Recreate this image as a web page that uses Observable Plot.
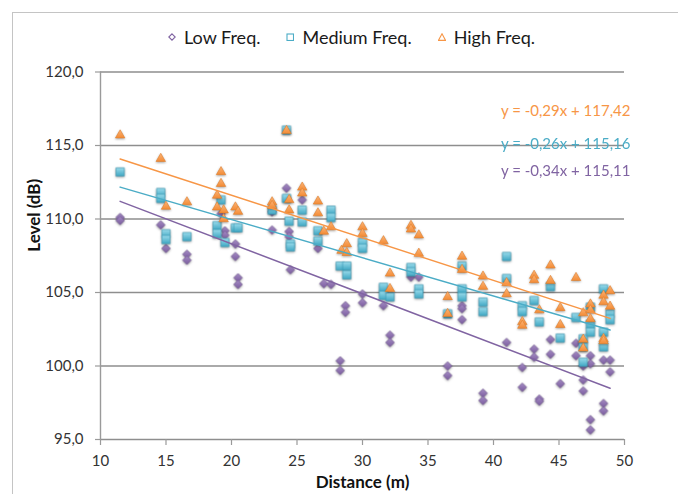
<!DOCTYPE html>
<html>
<head>
<meta charset="utf-8">
<script src="https://cdn.jsdelivr.net/npm/d3@7"></script>
<script src="https://cdn.jsdelivr.net/npm/@observablehq/plot@0.6"></script>
<style>
  html, body { margin: 0; padding: 0; background: #ffffff; }
  #wrap { position: relative; width: 678px; height: 494px; overflow: hidden; font-family: Lato, "Open Sans", sans-serif; }
  #border { position: absolute; left: 12px; top: 12px; width: 700px; height: 520px; border-top: 1.5px solid #c4c4c4; border-left: 1.5px solid #c4c4c4; }
  #legend { position: absolute; left: 168px; top: 26px; display: flex; align-items: center; font-size: 18px; color: #1a1a1a; white-space: nowrap; }
  #legend .item { display: flex; align-items: center; margin-right: 26px; }
  #legend svg { margin-right: 8px; }
  #chart { position: absolute; left: 0; top: 0; }
</style>
</head>
<body>
<div id="wrap">
  <div id="border"></div>
  <div id="legend"></div>
  <div id="chart"></div>
</div>
<script>
// ---- data ----
const seriesNames = ["Low Freq.", "Medium Freq.", "High Freq."];
const seriesColors = ["#8064a2", "#4bacc6", "#f79646"];
const slopes = [-0.34, -0.26, -0.29];
const intercepts = [115.11, 115.16, 117.42];
const xTicks = [10, 15, 20, 25, 30, 35, 40, 45, 50];
const yTicks = [95, 100, 105, 110, 115, 120];

const lowX = [11.5, 11.5, 14.6, 15.0, 16.6, 16.6, 19.2, 19.5, 19.5, 20.3, 20.3, 20.5, 20.5,
  23.1, 23.1, 24.2, 24.4, 24.4, 24.5, 25.4, 26.6, 27.05, 27.6, 28.3, 28.3, 28.7, 28.7,
  30.0, 30.0, 31.6, 32.1, 32.1, 33.7, 34.3, 36.5, 36.5, 37.6, 37.6, 37.6, 39.2, 39.2,
  41.0, 42.2, 42.2, 43.1, 43.1, 43.5, 43.5, 44.35, 44.35, 45.1, 46.3, 46.3,
  46.85, 46.85, 46.85, 47.4, 47.4, 47.4, 47.4, 48.4, 48.9, 48.9, 48.4, 48.4];
const lowY = [110.1, 109.9, 109.6, 108.0, 107.6, 107.2, 110.35, 109.2, 108.9, 108.3, 107.45, 106.0, 105.55,
  110.5, 109.25, 112.1, 109.15, 108.8, 106.55, 111.3, 108.0, 105.6, 105.55, 100.35, 99.7, 104.1, 103.65,
  104.9, 104.3, 104.1, 102.1, 101.6, 106.05, 106.05, 100.0, 99.35, 104.1, 103.9, 103.15, 98.15, 97.65,
  101.6, 99.9, 98.55, 101.15, 100.6, 97.75, 97.6, 101.8, 100.8, 98.8, 101.55, 100.7,
  100.0, 99.05, 98.3, 100.7, 100.15, 96.35, 95.65, 100.4, 100.4, 99.6, 97.45, 96.95];

const medX = [11.5, 14.6, 14.6, 15.0, 15.0, 16.6, 18.9, 18.9, 19.2, 19.5, 20.3, 20.5,
  23.1, 24.2, 24.2, 24.4, 24.5, 24.5, 25.4, 25.4, 26.6, 26.6, 27.6, 27.6,
  28.3, 28.8, 28.8, 30.0, 30.0, 31.6, 31.6, 32.1, 33.7, 33.7, 34.3, 34.3,
  36.5, 37.6, 37.6, 37.6, 39.2, 39.2, 41.0, 41.0, 42.2, 42.2, 43.1, 43.5,
  44.35, 45.1, 46.3, 46.85, 46.85, 46.85, 47.4, 47.4, 47.4, 48.4, 48.4, 48.4, 48.9, 48.9];
const medY = [113.2, 111.8, 111.4, 109.0, 108.6, 108.8, 109.55, 109.0, 111.3, 108.4, 109.4, 109.4,
  110.6, 116.05, 111.4, 109.85, 108.3, 108.1, 110.6, 109.8, 109.2, 108.5, 110.6, 110.1,
  106.8, 106.8, 106.2, 108.4, 108.0, 105.35, 104.8, 104.7, 106.7, 106.4, 105.25, 104.9,
  103.55, 106.8, 105.25, 104.7, 104.35, 103.7, 107.45, 105.95, 104.1, 103.7, 104.45, 103.0,
  105.4, 101.9, 103.3, 101.85, 101.3, 100.25, 104.0, 102.85, 102.3, 105.25, 102.3, 101.3, 103.55, 103.15];

const highX = [11.5, 14.6, 15.0, 16.6, 18.9, 18.9, 19.2, 19.2, 19.4, 19.4, 20.3, 20.5,
  23.1, 23.1, 24.2, 24.4, 24.4, 25.4, 25.4, 26.6, 26.6, 27.05, 27.6, 28.4, 28.8, 28.8,
  30.0, 30.0, 31.6, 32.1, 32.1, 33.7, 33.7, 34.3, 34.3, 36.5, 36.5, 37.6, 37.6,
  39.2, 39.2, 41.0, 41.0, 42.2, 42.2, 43.1, 43.1, 43.5, 44.35, 44.35, 45.1, 45.1, 46.3,
  46.85, 46.85, 46.85, 47.4, 47.4, 47.4, 48.4, 48.4, 48.4, 48.4, 48.9, 48.9];
const highY = [115.7, 114.1, 110.85, 111.15, 111.6, 110.8, 113.2, 112.4, 110.6, 110.0, 110.8, 110.5,
  111.15, 110.9, 116.0, 111.3, 110.6, 112.15, 111.75, 111.2, 110.4, 109.15, 109.45, 107.85, 108.3, 107.7,
  109.45, 109.0, 108.5, 106.3, 105.25, 109.55, 109.3, 108.9, 107.65, 104.7, 103.55, 107.45, 106.55,
  106.1, 105.4, 105.65, 104.9, 103.0, 102.75, 106.15, 105.85, 103.8, 106.85, 105.8, 103.95, 102.8, 106.0,
  103.6, 101.8, 101.2, 104.2, 103.8, 103.2, 104.8, 104.35, 101.85, 101.7, 105.1, 104.05];

// ---- tables ----
const toRows = (xs, ys) => xs.map((x, i) => ({x, y: ys[i]}));
const low = toRows(lowX, lowY);
const med = toRows(medX, medY);
const high = toRows(highX, highY);
const allSeries = [low, med, high];

const trend = allSeries.map((rows, i) => {
  const [x0, x1] = d3.extent(rows, d => d.x);
  return [x0, x1].map(x => ({x, y: slopes[i] * x + intercepts[i], s: i}));
});
const fmt = v => v.toFixed(2).replace(".", ",");
const eqText = slopes.map((m, i) => `y = ${m < 0 ? "-" : ""}${fmt(Math.abs(m))}x + ${fmt(intercepts[i])}`);

const chart = Plot.plot({
  width: 678,
  height: 494,
  marginLeft: 100,
  marginRight: 54,
  marginTop: 71.5,
  marginBottom: 55,
  style: {fontFamily: "Lato, 'Open Sans', sans-serif", fontSize: "15px", color: "#333333", background: "transparent", overflow: "visible"},
  x: {domain: [10, 50]},
  y: {domain: [95, 120]},
  marks: [
    Plot.gridY(yTicks, {stroke: "#8e8e8e", strokeOpacity: 1, strokeWidth: 1.4}),
    Plot.ruleX([10], {stroke: "#9a9a9a", strokeWidth: 1.4}),
    Plot.axisY(yTicks, {tickSize: 5, tickPadding: 12, stroke: "#9a9a9a", strokeWidth: 1.2, label: null,
      tickFormat: d => d.toFixed(1).replace(".", ","), fontSize: 15}),
    Plot.axisX(xTicks, {tickSize: 6, tickPadding: 10, stroke: "#9a9a9a", strokeWidth: 1.2, label: null, fontSize: 15}),
    Plot.dot(low, {x: "x", y: "y", symbol: "diamond2", r: 3.9, fill: seriesColors[0], stroke: "#6a4f8c", strokeWidth: 0.6}),
    Plot.dot(med, {x: "x", y: "y", symbol: "square", r: 4.7, fill: seriesColors[1], stroke: "#3595b0", strokeWidth: 0.6}),
    Plot.dot(high, {x: "x", y: "y", symbol: "triangle", r: 3.5, fill: seriesColors[2], stroke: "#e07f2c", strokeWidth: 0.6}),
    ...trend.map((t, i) => Plot.line(t, {x: "x", y: "y", stroke: seriesColors[i], strokeWidth: 1.5})),
    Plot.text([eqText[2]], {frameAnchor: "top-right", dx: 6, dy: 33.5, text: d => d, fill: seriesColors[2], fontSize: 15, textAnchor: "end"}),
    Plot.text([eqText[1]], {frameAnchor: "top-right", dx: 6, dy: 66.5, text: d => d, fill: seriesColors[1], fontSize: 15, textAnchor: "end"}),
    Plot.text([eqText[0]], {frameAnchor: "top-right", dx: 6, dy: 93.5, text: d => d, fill: seriesColors[0], fontSize: 15, textAnchor: "end"}),
    Plot.text(["Level (dB)"], {frameAnchor: "left", dx: -66, dy: -4, text: d => d, rotate: -90, fontSize: 17, fontWeight: "bold", fill: "#111"}),
    Plot.text(["Distance (m)"], {frameAnchor: "bottom", dy: 48, text: d => d, fontSize: 17, fontWeight: "bold", fill: "#111"})
  ]
});
document.getElementById("chart").appendChild(chart);

// subtle gradient + shadow on markers (Excel style)
const svgNS = "http://www.w3.org/2000/svg";
const defs = document.createElementNS(svgNS, "defs");
const grads = [["gLow", "#a58cc4", "#7a5c9e"], ["gMed", "#9adbeb", "#3fa7c3"], ["gHigh", "#fbb478", "#f38b35"]];
grads.forEach(([id, c0, c1]) => {
  const g = document.createElementNS(svgNS, "linearGradient");
  g.setAttribute("id", id); g.setAttribute("x1", "0"); g.setAttribute("y1", "0"); g.setAttribute("x2", "0"); g.setAttribute("y2", "1");
  [[0, c0], [1, c1]].forEach(([o, c]) => {
    const s = document.createElementNS(svgNS, "stop");
    s.setAttribute("offset", o); s.setAttribute("stop-color", c);
    g.appendChild(s);
  });
  defs.appendChild(g);
});
chart.insertBefore(defs, chart.firstChild);
const dotGroups = chart.querySelectorAll('g[aria-label="dot"]');
dotGroups.forEach((g, i) => {
  g.setAttribute("fill", `url(#${grads[i][0]})`);
  g.style.filter = "drop-shadow(0.8px 1.2px 0.8px rgba(0,0,0,0.35))";
});

// legend
const legend = document.getElementById("legend");
const legendShapes = [
  '<polygon points="4,0.8 7.2,4 4,7.2 0.8,4" fill="none" stroke="#8064a2" stroke-width="1.1"/>',
  '<rect x="1" y="1" width="6.5" height="6.5" fill="none" stroke="#4bacc6" stroke-width="1.1"/>',
  '<polygon points="4,0.8 7.6,7.4 0.4,7.4" fill="none" stroke="#f79646" stroke-width="1.1"/>'
];
seriesNames.forEach((name, i) => {
  const item = document.createElement("div");
  item.className = "item";
  item.innerHTML = `<svg width="8" height="8" viewBox="0 0 8 8">${legendShapes[i]}</svg><span>${name}</span>`;
  legend.appendChild(item);
});
</script>
</body>
</html>
